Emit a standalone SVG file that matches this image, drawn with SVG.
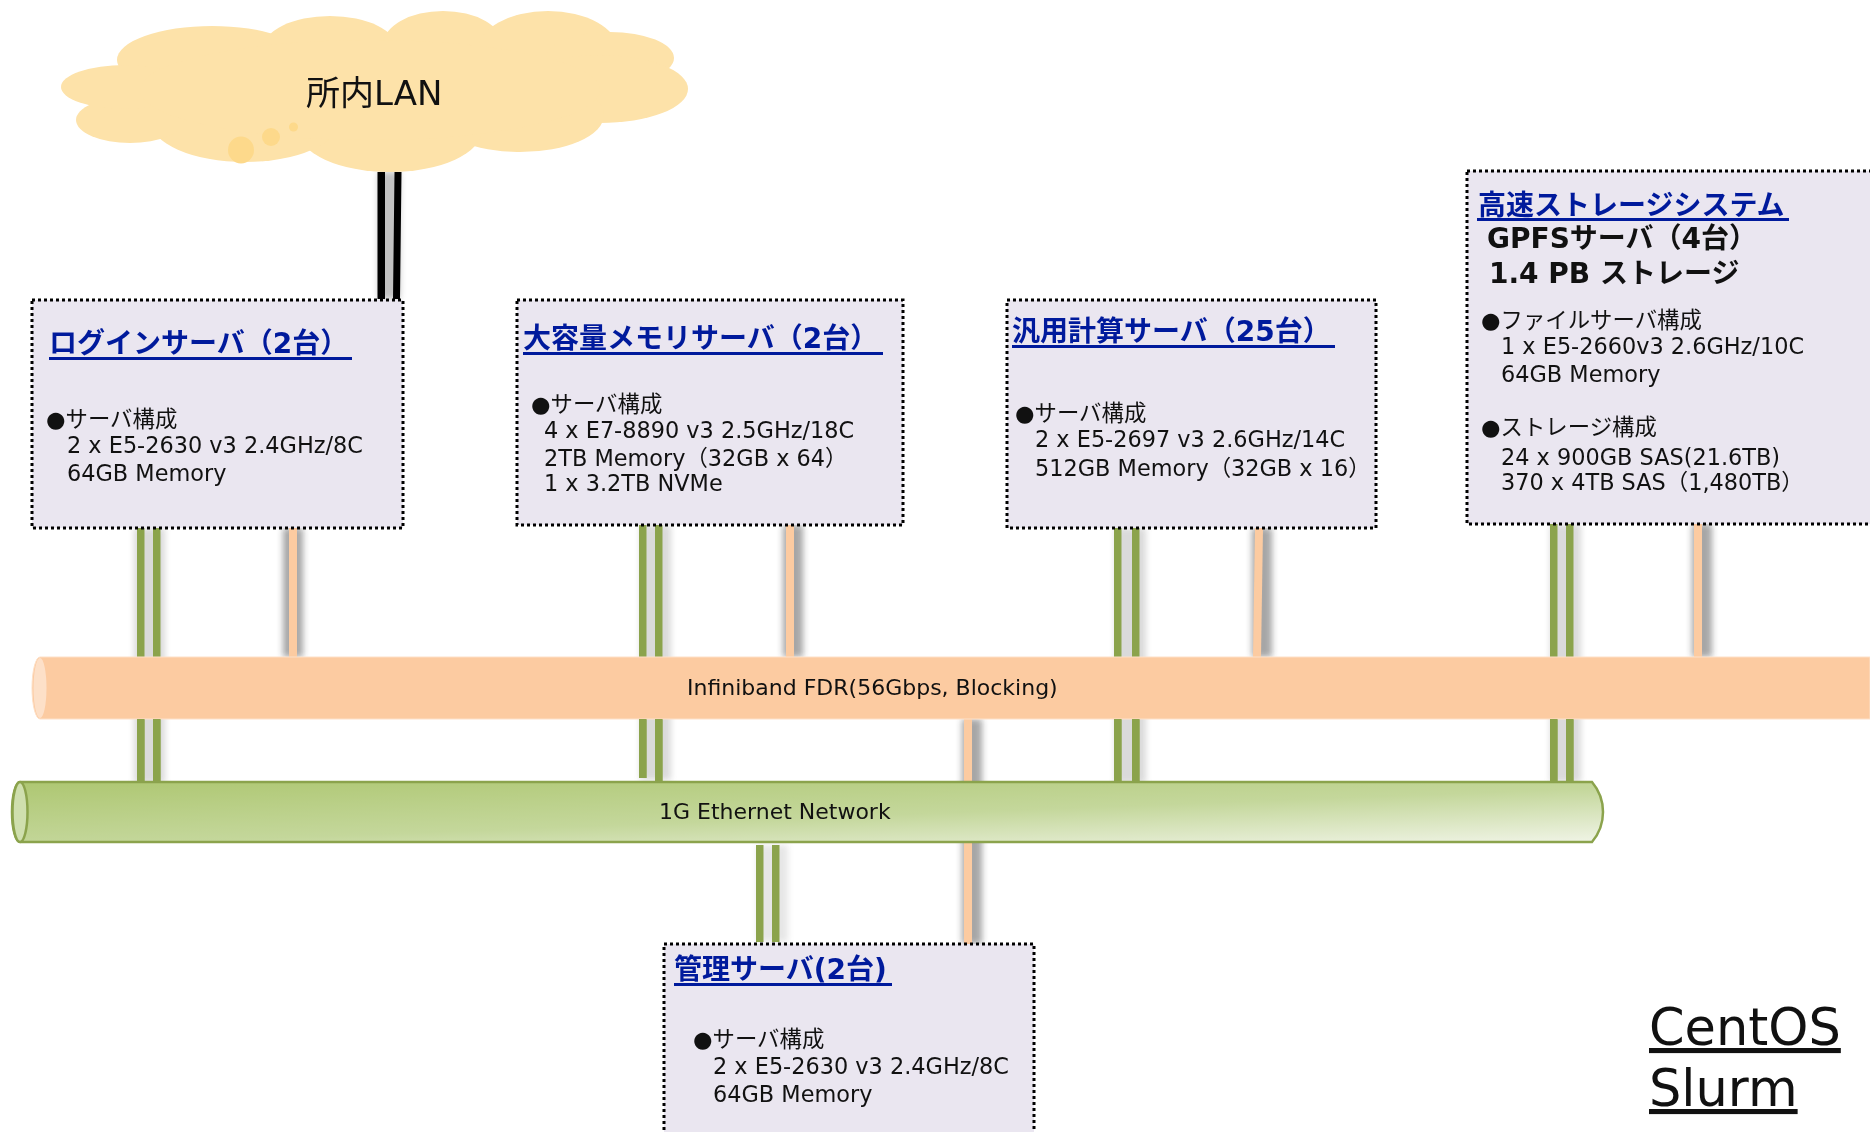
<svg xmlns="http://www.w3.org/2000/svg" width="1870" height="1132" viewBox="0 0 1870 1132">
<defs>
<style>
text{font-family:"DejaVu Sans","Noto Sans CJK JP",sans-serif;fill:#111}
.t{font-size:28px;font-weight:700;fill:#001a9c}
.s{font-size:28px;font-weight:700;fill:#111}
.b{font-size:22.4px}
.box{fill:#eae6f0;stroke:#000;stroke-width:3;stroke-dasharray:3 3}
.g{fill:#8ba34c}
.p{fill:#fccba1}
.k{fill:#000}
.u{fill:#001a9c}
.cl{fill:#fde2a9}
.bub{fill:#fdd98b}
</style>
<filter id="sh" x="-300%" y="-5%" width="700%" height="110%"><feGaussianBlur stdDeviation="3"/></filter>
<linearGradient id="eth" x1="0" y1="0" x2="1" y2="1" gradientTransform="rotate(0)">
<stop offset="0" stop-color="#aec772"/>
<stop offset=".55" stop-color="#c4d79b"/>
<stop offset="1" stop-color="#f0f4e6"/>
</linearGradient>
</defs>
<rect width="1870" height="1132" fill="#fff"/>
<g id="connectors-under">
<g opacity=".4" filter="url(#sh)">
<rect x="378" y="172" width="22" height="127" fill="#666"/>
<rect x="134" y="528" width="31" height="255" fill="#666" opacity=".6"/>
<rect x="640" y="525" width="31" height="255" fill="#666" opacity=".6"/>
<rect x="1115" y="528" width="31" height="255" fill="#666" opacity=".6"/>
<rect x="1550" y="524" width="31" height="258" fill="#666" opacity=".6"/>
<rect x="757" y="845" width="31" height="97" fill="#666" opacity=".4"/>
<rect x="283" y="528" width="20" height="129" fill="#222"/>
<rect x="783" y="525" width="20" height="132" fill="#222"/>
<rect x="1252" y="528" width="20" height="129" fill="#222"/>
<rect x="1692" y="524" width="20" height="133" fill="#222"/>
<rect x="962" y="719" width="20" height="225" fill="#222"/>
</g>
<path class="k" d="M377.500 172h7.500v127h-7.500z M394.500 172h7l-1.500 127h-7z"/>
<rect class="g" x="137" y="528" width="7.500" height="254"/>
<rect class="g" x="153" y="528" width="7.500" height="256"/>
<rect class="g" x="639" y="525" width="7.500" height="253"/>
<rect class="g" x="655" y="525" width="7.500" height="257"/>
<rect class="g" x="1114" y="528" width="7.500" height="254"/>
<rect class="g" x="1132" y="528" width="7.500" height="254"/>
<rect class="g" x="1550" y="524" width="7.500" height="258"/>
<rect class="g" x="1566" y="524" width="7.500" height="258"/>
<rect class="g" x="756" y="845" width="7.500" height="97"/>
<rect class="g" x="772" y="845" width="7.500" height="97"/>
<rect class="p" x="289" y="528" width="8" height="129"/>
<rect class="p" x="786" y="525" width="8" height="132"/>
<path class="p" d="M1255 528h8l-2 129h-8z"/>
<rect class="p" x="1694" y="524" width="8" height="133"/>
<rect class="p" x="964" y="719" width="8" height="225"/>
</g>
<g id="cloud">
<g class="cl">
<ellipse cx="212" cy="60" rx="95" ry="34"/>
<ellipse cx="330" cy="50" rx="68" ry="34"/>
<ellipse cx="443" cy="45" rx="60" ry="34"/>
<ellipse cx="548" cy="50" rx="70" ry="39"/>
<ellipse cx="610" cy="58" rx="64" ry="26"/>
<ellipse cx="600" cy="89" rx="88" ry="34"/>
<ellipse cx="520" cy="115" rx="84" ry="37"/>
<ellipse cx="390" cy="130" rx="92" ry="42"/>
<ellipse cx="245" cy="120" rx="95" ry="42"/>
<ellipse cx="130" cy="120" rx="54" ry="23"/>
<ellipse cx="125" cy="87" rx="64" ry="22"/>
<ellipse cx="370" cy="90" rx="230" ry="50"/>
</g>
<ellipse class="bub" cx="241" cy="150" rx="13" ry="13.500"/>
<ellipse class="bub" cx="271" cy="137" rx="9" ry="9"/>
<ellipse class="bub" cx="293.500" cy="127" rx="4.500" ry="4.500"/>
<text x="306" y="105" style="font-size:34px">所内LAN</text>
</g>
<g id="infiniband">
<path d="M40 657H1870V719H40A8 31 0 0 1 40 657Z" fill="#fccba1" stroke="#fde0c8" stroke-width="1"/>
<ellipse cx="40" cy="688" rx="6.500" ry="30" fill="#fde0c8"/>
<text x="687" y="695" style="font-size:22px">Infiniband FDR(56Gbps, Blocking)</text>
</g>
<g id="connectors-over">
<rect class="g" x="137" y="719" width="7.500" height="63"/>
<rect class="g" x="153" y="719" width="7.500" height="65"/>
<rect class="g" x="639" y="719" width="7.500" height="59"/>
<rect class="g" x="655" y="719" width="7.500" height="63"/>
<rect class="g" x="1114" y="719" width="7.500" height="63"/>
<rect class="g" x="1132" y="719" width="7.500" height="63"/>
<rect class="g" x="1550" y="719" width="7.500" height="63"/>
<rect class="g" x="1566" y="719" width="7.500" height="63"/>
</g>
<g id="ethernet">
<path d="M20 782H1592Q1603 795 1603 812Q1603 829 1592 842H20A8 30 0 0 1 20 782Z" fill="url(#eth)" stroke="#8ba34c" stroke-width="2.500"/>
<ellipse cx="20" cy="812" rx="7.500" ry="30" fill="#cfdfae" stroke="#8ba34c" stroke-width="2.500"/>
<text x="659" y="819" style="font-size:22px">1G Ethernet Network</text>
</g>
<g id="login">
<rect class="box" x="32" y="300" width="371" height="228"/>
<text class="t" x="49" y="353">ログインサーバ（2台）</text>
<rect class="u" x="49" y="357" width="303" height="3"/>
<text class="b" x="46" y="427">●サーバ構成</text>
<text class="b" x="67" y="453">2 x E5-2630 v3 2.4GHz/8C</text>
<text class="b" x="67" y="481">64GB Memory</text>
</g>
<g id="memory">
<rect class="box" x="517" y="300" width="386" height="225"/>
<text class="t" x="523" y="348">大容量メモリサーバ（2台）</text>
<rect class="u" x="523" y="352" width="360" height="3"/>
<text class="b" x="531" y="412">●サーバ構成</text>
<text class="b" x="544" y="438">4 x E7-8890 v3 2.5GHz/18C</text>
<text class="b" x="544" y="466">2TB Memory（32GB x 64）</text>
<text class="b" x="544" y="491">1 x 3.2TB NVMe</text>
</g>
<g id="general">
<rect class="box" x="1007" y="300" width="369" height="228"/>
<text class="t" x="1012" y="341">汎用計算サーバ（25台）</text>
<rect class="u" x="1012" y="345" width="323" height="3"/>
<text class="b" x="1015" y="421">●サーバ構成</text>
<text class="b" x="1035" y="447">2 x E5-2697 v3 2.6GHz/14C</text>
<text class="b" x="1035" y="476">512GB Memory（32GB x  16）</text>
</g>
<g id="storage">
<rect class="box" x="1467" y="171" width="420" height="353"/>
<text class="t" x="1478" y="215">高速ストレージシステム</text>
<rect class="u" x="1477" y="218" width="312" height="3"/>
<text class="s" x="1487" y="248">GPFSサーバ（4台）</text>
<text class="s" x="1489" y="283">1.4 PB ストレージ</text>
<text class="b" x="1481" y="328">●ファイルサーバ構成</text>
<text class="b" x="1501" y="354">1 x E5-2660v3 2.6GHz/10C</text>
<text class="b" x="1501" y="382">64GB Memory</text>
<text class="b" x="1481" y="435">●ストレージ構成</text>
<text class="b" x="1501" y="465">24 x 900GB SAS(21.6TB)</text>
<text class="b" x="1501" y="490">370 x 4TB SAS（1,480TB）</text>
</g>
<g id="admin">
<rect class="box" x="664" y="944" width="370" height="200"/>
<text class="t" x="674" y="979">管理サーバ(2台)</text>
<rect class="u" x="674" y="983" width="218" height="3"/>
<text class="b" x="693" y="1047">●サーバ構成</text>
<text class="b" x="713" y="1074">2 x E5-2630 v3 2.4GHz/8C</text>
<text class="b" x="713" y="1102">64GB Memory</text>
</g>
<g id="os">
<text x="1649" y="1045" style="font-size:51px;text-decoration:underline">CentOS</text>
<text x="1649" y="1106" style="font-size:51px;text-decoration:underline">Slurm</text>
</g>
</svg>
